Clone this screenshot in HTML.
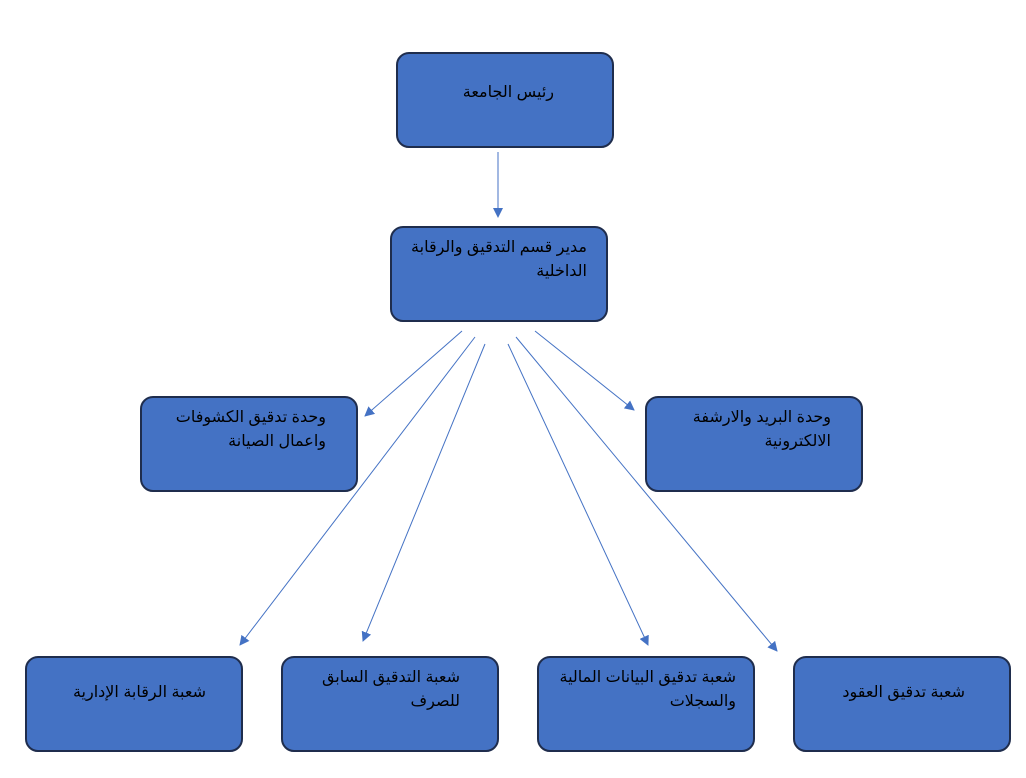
<!DOCTYPE html>
<html><head><meta charset="utf-8"><style>
body{margin:0;width:1026px;height:778px;background:#fff;position:relative;overflow:hidden;font-family:"Liberation Sans","Noto Sans CJK SC","DejaVu Sans",sans-serif;}
.b{position:absolute;width:218px;height:96px;background:#4472C4;border:2px solid #1f2d4d;border-radius:13px;box-sizing:border-box;}
.t{position:absolute;direction:rtl;font-size:16px;line-height:24px;color:#000;white-space:nowrap;}
svg{position:absolute;left:0;top:0}
</style></head><body>
<div class="b" style="left:396px;top:52px"></div>
<div class="b" style="left:390px;top:226px"></div>
<div class="b" style="left:140px;top:396px"></div>
<div class="b" style="left:645px;top:396px"></div>
<div class="b" style="left:25px;top:656px"></div>
<div class="b" style="left:281px;top:656px"></div>
<div class="b" style="left:537px;top:656px"></div>
<div class="b" style="left:793px;top:656px"></div>

<div class="t" style="right:472px;top:81px">رئيس الجامعة</div>
<div class="t" style="right:439px;top:236px">مدير قسم التدقيق والرقابة<br>الداخلية</div>
<div class="t" style="right:700px;top:406px">وحدة تدقيق الكشوفات<br>واعمال الصيانة</div>
<div class="t" style="right:195px;top:406px">وحدة البريد والارشفة<br>الالكترونية</div>
<div class="t" style="right:820px;top:681px">شعبة الرقابة الإدارية</div>
<div class="t" style="right:566px;top:666px">شعبة التدقيق السابق<br>للصرف</div>
<div class="t" style="right:290px;top:666px">شعبة تدقيق البيانات المالية<br>والسجلات</div>
<div class="t" style="right:61px;top:681px">شعبة تدقيق العقود</div>

<svg width="1026" height="778">
<defs><marker id="a" markerWidth="10" markerHeight="10" refX="9" refY="5" orient="auto" markerUnits="userSpaceOnUse"><path d="M0,0 L10,5 L0,10 z" fill="#4472C4"/></marker></defs>
<g stroke="#4472C4" stroke-width="1" fill="none" marker-end="url(#a)">
<line x1="498" y1="152" x2="498" y2="217"/>
<line x1="462" y1="331" x2="365" y2="416"/>
<line x1="535" y1="331" x2="634" y2="410"/>
<line x1="475" y1="337" x2="240" y2="645"/>
<line x1="485" y1="344" x2="363" y2="641"/>
<line x1="508" y1="344" x2="648" y2="645"/>
<line x1="516" y1="337" x2="777" y2="651"/>
</g></svg>
</body></html>
